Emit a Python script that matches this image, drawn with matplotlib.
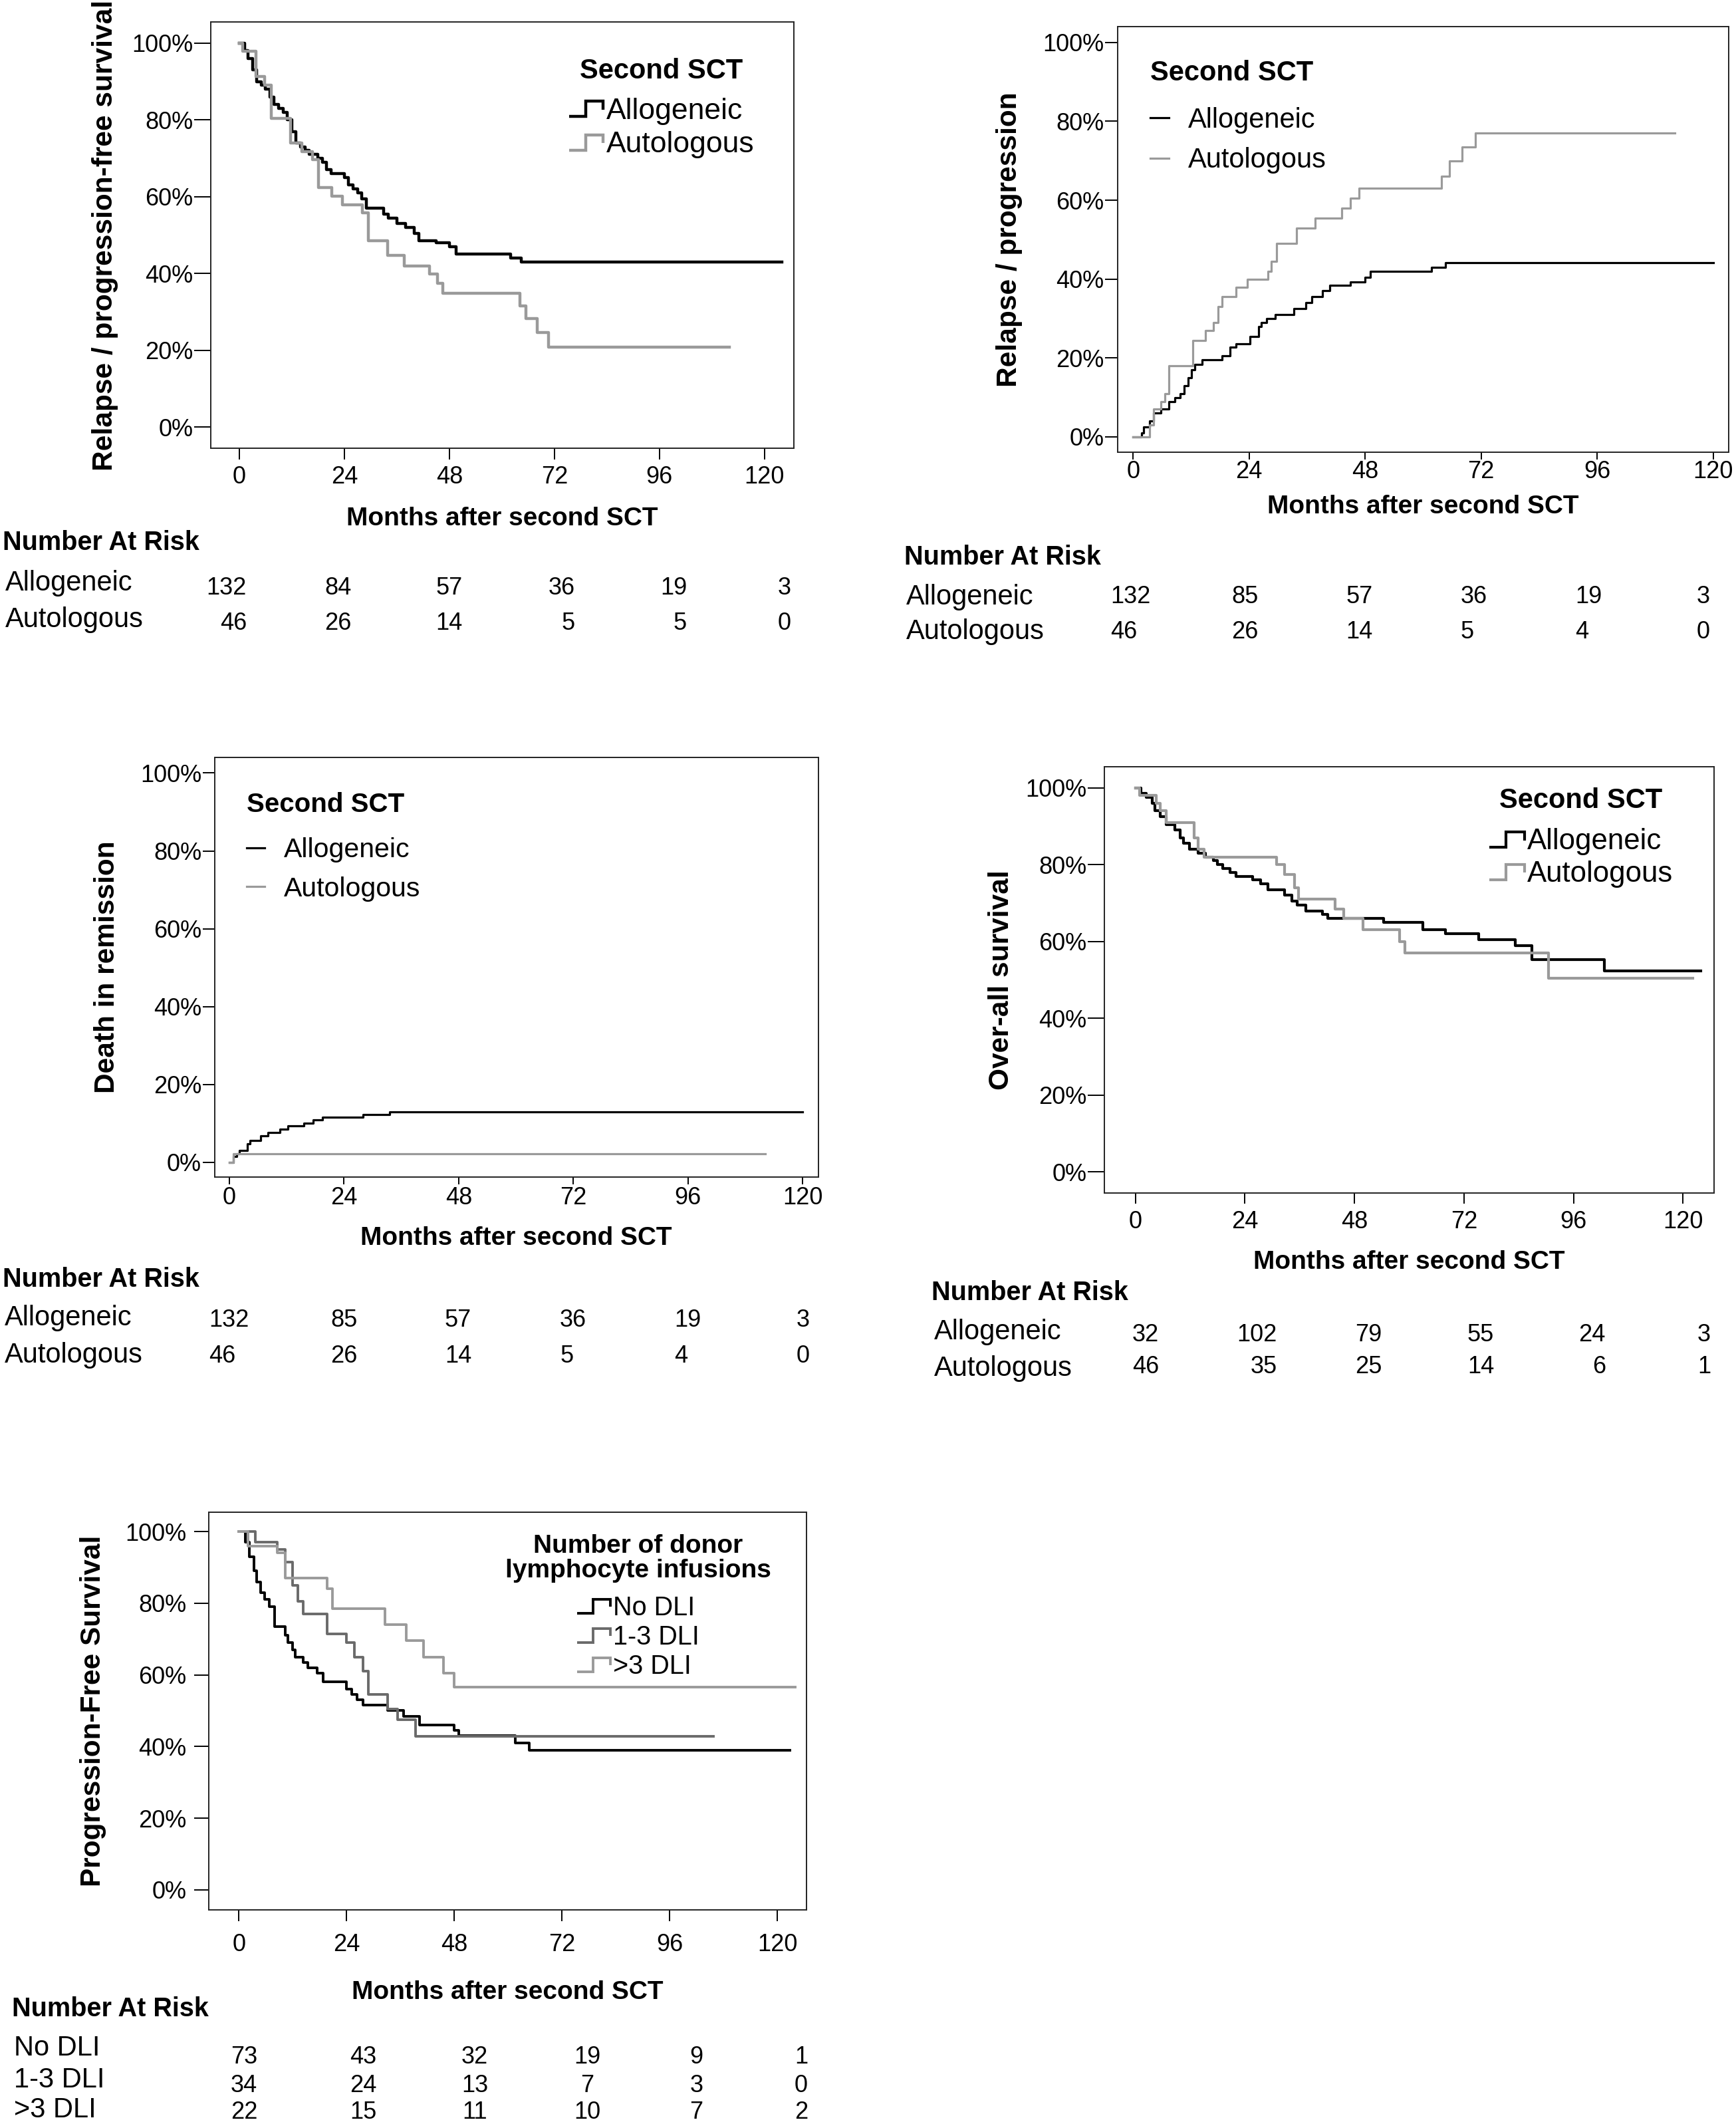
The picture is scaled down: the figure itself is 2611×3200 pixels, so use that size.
import matplotlib
matplotlib.use("Agg")
import matplotlib.pyplot as plt
from matplotlib.lines import Line2D
from matplotlib.legend_handler import HandlerBase

W, H = 2611, 3200

month_ticks = [0, 24, 48, 72, 96, 120]
pct_ticks = [0, 20, 40, 60, 80, 100]

# Relapse / progression-free survival
pfs_allo_t = [0, 1.2, 2, 3, 4, 5, 6, 7, 8, 9, 10, 11, 12, 13, 14, 15, 16, 18, 19, 20,
              21, 24, 25, 26, 27, 28, 29, 33, 34, 36, 38, 40, 41, 45, 48, 49.5, 62, 64.5, 124]
pfs_allo_s = [100, 98, 96, 93, 90, 89, 88, 86, 84, 83, 82, 80, 77, 74, 73, 72, 71, 70, 69, 67,
              66, 65, 63, 62, 61, 59.5, 57, 55.5, 54.5, 53, 52, 50.5, 48.5, 48, 47, 45, 44, 43, 43]
pfs_auto_t = [0, 0.8, 3.8, 5.8, 7.3, 11.8, 14.3, 16.8, 18.1, 21.2, 23.5, 28.2, 29.5, 33.9,
              37.7, 43.4, 45.3, 46.5, 64.2, 65.5, 68.0, 70.6, 112]
pfs_auto_s = [100, 97.8, 91.3, 89.1, 80.4, 73.9, 71.7, 69.6, 62.4, 60.2, 57.8, 55.8, 48.6, 44.7,
              41.9, 39.9, 37.4, 34.9, 31.6, 28.2, 24.7, 20.8, 20.8]
risk_pfs_allo = [132, 84, 57, 36, 19, 3]
risk_pfs_auto = [46, 26, 14, 5, 5, 0]

# Relapse / progression
rel_allo_t = [0, 1.8, 2.2, 3.4, 4.2, 5.7, 7.4, 8.6, 9.7, 10.5, 11.4, 12.0, 12.8, 14.3, 18.4, 20.1,
              21.3, 24.2, 25.9, 26.5, 27.6, 29.4, 33.2, 35.7, 36.9, 39.2, 40.7, 45.0, 47.9, 49.0,
              61.7, 64.6, 120]
rel_allo_s = [0, 1, 2.5, 4, 6, 7, 9, 10, 11, 13, 15, 17, 18.4, 19.5, 20.5, 22.7,
              23.6, 25.5, 28, 29, 30, 31, 32.5, 34, 35.5, 37, 38.5, 39.3, 40.5, 42,
              43, 44.2, 44.2]
rel_auto_t = [0, 3.4, 4.2, 5.7, 6.6, 7.4, 12.4, 14.9, 16.6, 17.6, 18.4, 21.3, 23.6, 27.9, 28.6,
              29.7, 33.8, 37.6, 43.2, 45.0, 46.7, 63.8, 65.4, 68.1, 70.8, 112]
rel_auto_s = [0, 3, 7, 9, 11, 18, 24.5, 27, 29, 33, 35.5, 38, 40, 42, 44.5,
              49, 53, 55.5, 58, 60.5, 63, 66, 70, 73.5, 77, 77]
risk_rel_allo = [132, 85, 57, 36, 19, 3]
risk_rel_auto = [46, 26, 14, 5, 4, 0]

# Death in remission
nrm_allo_t = [0, 0.9, 1.6, 2.1, 3.8, 4.4, 6.5, 8.1, 10.6, 12.3, 15.6, 17.5, 19.5, 28.0, 33.5, 120]
nrm_allo_s = [0, 1.5, 2.2, 3, 4.8, 5.5, 6.8, 7.7, 8.5, 9.3, 10.1, 10.8, 11.6, 12.2, 13, 13]
nrm_auto_t = [0, 0.8, 112.1]
nrm_auto_s = [0, 2.2, 2.2]
risk_nrm_allo = [132, 85, 57, 36, 19, 3]
risk_nrm_auto = [46, 26, 14, 5, 4, 0]

# Over-all survival
os_allo_t = [0, 1.2, 2.4, 3.7, 4.3, 5.5, 6.7, 8.6, 9.8, 10.6, 11.9, 13.8, 15.3, 17.1, 18.0, 19.2,
             20.8, 22.0, 25.7, 27.5, 29.0, 32.7, 34.3, 35.5, 37.3, 41.0, 42.2, 54.4, 63.0, 67.9,
             75.2, 83.2, 86.9, 102.8, 123.9]
os_allo_s = [100, 98.5, 97.5, 96, 94, 92.5, 90.5, 89, 87, 85.5, 84, 83, 82, 81, 80, 79,
             78, 77, 76, 75, 73.5, 72, 70.5, 69.5, 68, 67, 66, 65, 63, 62,
             60.5, 59, 55.3, 52.4, 52.4]
os_auto_t = [0, 0.9, 4.5, 5.5, 6.7, 12.8, 13.7, 15.0, 30.9, 32.7, 34.9, 35.8, 43.8, 45.6, 49.9,
             57.9, 59.1, 90.5, 122.1]
os_auto_s = [100, 98, 96, 94, 91, 87, 84, 82, 80, 77.5, 74, 71, 68.5, 66, 63,
             60, 57, 50.5, 50.5]
risk_os_allo = [32, 102, 79, 55, 24, 3]
risk_os_auto = [46, 35, 25, 14, 6, 1]

# Progression-free survival by number of DLI
dli0_t = [0, 1.5, 2.3, 3.3, 4.0, 4.8, 5.8, 6.8, 7.9, 10.4, 11.0, 12.0, 12.6, 14.4, 15.3, 17.4,
          18.8, 24.0, 25.2, 26.4, 27.7, 33.2, 36.7, 40.2, 48.0, 49.0, 61.6, 64.7, 122.7]
dli0_s = [100, 97, 93, 89, 86, 83, 81, 79, 73.5, 71, 69, 67, 65, 63.5, 62, 60.5,
          58, 56, 54.5, 53, 51.5, 50, 48.5, 46, 44.5, 43, 41, 39, 39]
dli13_t = [0, 3.6, 8.5, 10.4, 12.0, 13.2, 14.4, 19.6, 24.0, 25.8, 27.7, 28.9, 33.2, 35.4, 39.4, 105.7]
dli13_s = [100, 97, 95, 91.5, 85, 80.5, 77, 71.5, 69, 65, 61, 54.5, 50.5, 47.5, 42.8, 42.8]
dli3p_t = [0, 2.0, 8.5, 10.4, 19.6, 20.9, 32.6, 37.3, 41.2, 45.6, 48.0, 124]
dli3p_s = [100, 96, 94, 87, 84, 78.5, 74, 69.5, 65, 60.5, 56.5, 56.5]
risk_dli0 = [73, 43, 32, 19, 9, 1]
risk_dli13 = [34, 24, 13, 7, 3, 0]
risk_dli3p = [22, 15, 11, 10, 7, 2]

BLACK = "#000000"
GREY = "#9a9a9a"
DARK_GREY = "#6a6a6a"


class StepHandler(HandlerBase):
    """Legend icon drawn as a small step, like the SPSS survival legend."""

    def create_artists(self, legend, orig_handle, xdescent, ydescent,
                       width, height, fontsize, trans):
        xs = [0, 0.48, 0.48, 1.0, 1.0]
        ys = [0.1, 0.1, 0.85, 0.85, 0.45]
        line = Line2D([-xdescent + x * width for x in xs],
                      [-ydescent + y * height for y in ys],
                      color=orig_handle.get_color(),
                      lw=orig_handle.get_linewidth(),
                      solid_joinstyle="miter", solid_capstyle="butt")
        line.set_transform(trans)
        return [line]


def fx(x):
    return x / W


def fy(y):
    return 1 - y / H


def make_axes(fig, box, xlim, ylim, ylabel, ylabel_x, xlabel_y,
              ytick_len, ytick_pad, xtick_len, xtick_pad):
    """Create one survival panel with its box, ticks and labels (box in pixels)."""
    left, top, right, bottom = box
    ax = fig.add_axes([fx(left), fy(bottom), (right - left) / W, (bottom - top) / H])
    ax.set_xlim(*xlim)
    ax.set_ylim(*ylim)
    ax.set_xticks(month_ticks)
    ax.set_yticks(pct_ticks)
    ax.set_yticklabels([f"{v}%" for v in pct_ticks])
    ax.tick_params(axis="y", length=ytick_len, width=1.4, pad=ytick_pad, labelsize=26)
    ax.tick_params(axis="x", length=xtick_len, width=1.4, pad=xtick_pad, labelsize=26)
    for sp in ax.spines.values():
        sp.set_linewidth(1.4)
        sp.set_color("#222222")
    ax.set_ylabel(ylabel, fontsize=30.5, fontweight="bold")
    ax.yaxis.label.set_va("center")
    ax.yaxis.set_label_coords((ylabel_x - left) / (right - left), 0.5)
    ax.set_xlabel("Months after second SCT", fontsize=28, fontweight="bold")
    ax.xaxis.label.set_va("baseline")
    ax.xaxis.set_label_coords(0.5, (bottom - xlabel_y) / (bottom - top))
    return ax


def add_legend(fig, ax, handles, labels, title, left, top, title_gap, **kw):
    """Legend placed by its top-left corner in pixels; title_gap adds room under the title."""
    leg = ax.legend(handles, labels, title=title, loc="upper left",
                    bbox_to_anchor=(fx(left), fy(top)), bbox_transform=fig.transFigure,
                    frameon=False, borderpad=0, borderaxespad=0, **kw)
    leg._legend_box.sep += title_gap
    return leg


def risk_table(fig, header_xy, rows, xs, ha):
    """Write the number-at-risk table under a panel (pixel positions)."""
    fig.text(fx(header_xy[0]), fy(header_xy[1]), "Number At Risk",
             fontsize=28.5, fontweight="bold", va="baseline")
    for label, label_x, label_y, counts, num_y in rows:
        fig.text(fx(label_x), fy(label_y), label, fontsize=30, va="baseline")
        for x, n in zip(xs, counts):
            fig.text(fx(x), fy(num_y), str(n), fontsize=26, va="baseline", ha=ha)


def main():
    plt.rcParams["font.family"] = ["Liberation Sans", "DejaVu Sans"]
    fig = plt.figure(figsize=(W / 100, H / 100), dpi=100)
    step_map = {Line2D: StepHandler()}

    # Relapse / progression-free survival
    ax = make_axes(fig, (317, 33, 1194, 674), (-6.5, 126.7), (-5.5, 105.5),
                   "Relapse / progression-free survival", 158, 790, 18, 1, 12, 7)
    a, = ax.step(pfs_allo_t, pfs_allo_s, where="post", color=BLACK, lw=3.2)
    b, = ax.step(pfs_auto_t, pfs_auto_s, where="post", color=GREY, lw=3.2)
    add_legend(fig, ax, [a, b], ["Allogeneic", "Autologous"], "Second SCT", 856, 87, 7,
               handlelength=1.15, handletextpad=0.1, labelspacing=0.22, fontsize=32,
               title_fontproperties={"weight": "bold", "size": 30}, handler_map=step_map)
    risk_table(fig, (4, 827),
               [("Allogeneic", 8, 888, risk_pfs_allo, 894),
                ("Autologous", 8, 943, risk_pfs_auto, 947)],
               [371, 529, 696, 865, 1033, 1190], "right")

    # Relapse / progression
    ax = make_axes(fig, (1681, 40, 2600, 679.5), (-3.2, 123.2), (-3.8, 104.0),
                   "Relapse / progression", 1518, 772, 14, 1, 8, 1)
    a, = ax.step(rel_allo_t, rel_allo_s, where="post", color=BLACK, lw=2.3)
    b, = ax.step(rel_auto_t, rel_auto_s, where="post", color=GREY, lw=2.3)
    add_legend(fig, ax, [a, b], ["Allogeneic", "Autologous"], "Second SCT", 1730, 90, 7,
               handlelength=0.67, handletextpad=0.7, labelspacing=0.5, fontsize=30,
               alignment="left", title_fontproperties={"weight": "bold", "size": 30})
    risk_table(fig, (1360, 849),
               [("Allogeneic", 1363, 909, risk_rel_allo, 907),
                ("Autologous", 1363, 961, risk_rel_auto, 960)],
               [1670, 1852, 2024, 2197, 2369, 2552], "left")

    # Death in remission
    ax = make_axes(fig, (322.5, 1138.5, 1231, 1770.5), (-3.1, 123.3), (-3.9, 104.1),
                   "Death in remission", 161, 1872, 13, 1, 8, 2)
    a, = ax.step(nrm_allo_t, nrm_allo_s, where="post", color=BLACK, lw=2.3)
    b, = ax.step(nrm_auto_t, nrm_auto_s, where="post", color=GREY, lw=2.3)
    add_legend(fig, ax, [a, b], ["Allogeneic", "Autologous"], "Second SCT", 371, 1191, 7,
               handlelength=0.67, handletextpad=0.7, labelspacing=0.5, fontsize=29.5,
               alignment="left", title_fontproperties={"weight": "bold", "size": 29})
    risk_table(fig, (4, 1934.6),
               [("Allogeneic", 7, 1993, risk_nrm_allo, 1995.5),
                ("Autologous", 7, 2048.7, risk_nrm_auto, 2049)],
               [314, 497.5, 669, 842, 1014, 1197.5], "left")

    # Over-all survival
    ax = make_axes(fig, (1661, 1153, 2578, 1794), (-6.8, 126.8), (-5.5, 105.5),
                   "Over-all survival", 1506, 1908, 18, 1, 11.5, 7)
    a, = ax.step(os_allo_t, os_allo_s, where="post", color=BLACK, lw=3.0)
    b, = ax.step(os_auto_t, os_auto_s, where="post", color=GREY, lw=3.0)
    add_legend(fig, ax, [a, b], ["Allogeneic", "Autologous"], "Second SCT", 2240, 1184, 10,
               handlelength=1.2, handletextpad=0.1, labelspacing=0.17, fontsize=31.5,
               title_fontproperties={"weight": "bold", "size": 30}, handler_map=step_map)
    risk_table(fig, (1401, 1954.5),
               [("Allogeneic", 1405, 2013.5, risk_os_allo, 2016.7),
                ("Autologous", 1405, 2069, risk_os_auto, 2064.7)],
               [1743, 1921, 2078, 2247, 2415, 2573], "right")

    # Progression-free survival by DLI
    ax = make_axes(fig, (314, 2274, 1212.5, 2872), (-6.7, 126.4), (-5.6, 105.4),
                   "Progression-Free Survival", 140, 3006.4, 16, 8, 12, 13)
    a, = ax.step(dli0_t, dli0_s, where="post", color=BLACK, lw=2.8)
    b, = ax.step(dli13_t, dli13_s, where="post", color=DARK_GREY, lw=2.8)
    c, = ax.step(dli3p_t, dli3p_s, where="post", color=GREY, lw=2.8)
    leg = add_legend(fig, ax, [a, b, c], ["No DLI", "1-3 DLI", ">3 DLI"],
                     "Number of donor\nlymphocyte infusions", 760, 2307, 9,
                     handlelength=1.25, handletextpad=0.1, labelspacing=0.15, fontsize=28.5,
                     title_fontproperties={"weight": "bold", "size": 28}, handler_map=step_map)
    leg.get_title().set_linespacing(1.05)
    leg.get_title().set_ha("center")
    risk_table(fig, (18, 3032),
               [("No DLI", 21, 3091, risk_dli0, 3102.6),
                ("1-3 DLI", 21, 3139, risk_dli13, 3145.5),
                (">3 DLI", 21, 3184, risk_dli3p, 3186)],
               [367, 546, 714, 883, 1047.5, 1205], "center")

    fig.savefig("out.png", dpi=100)


if __name__ == "__main__":
    main()
